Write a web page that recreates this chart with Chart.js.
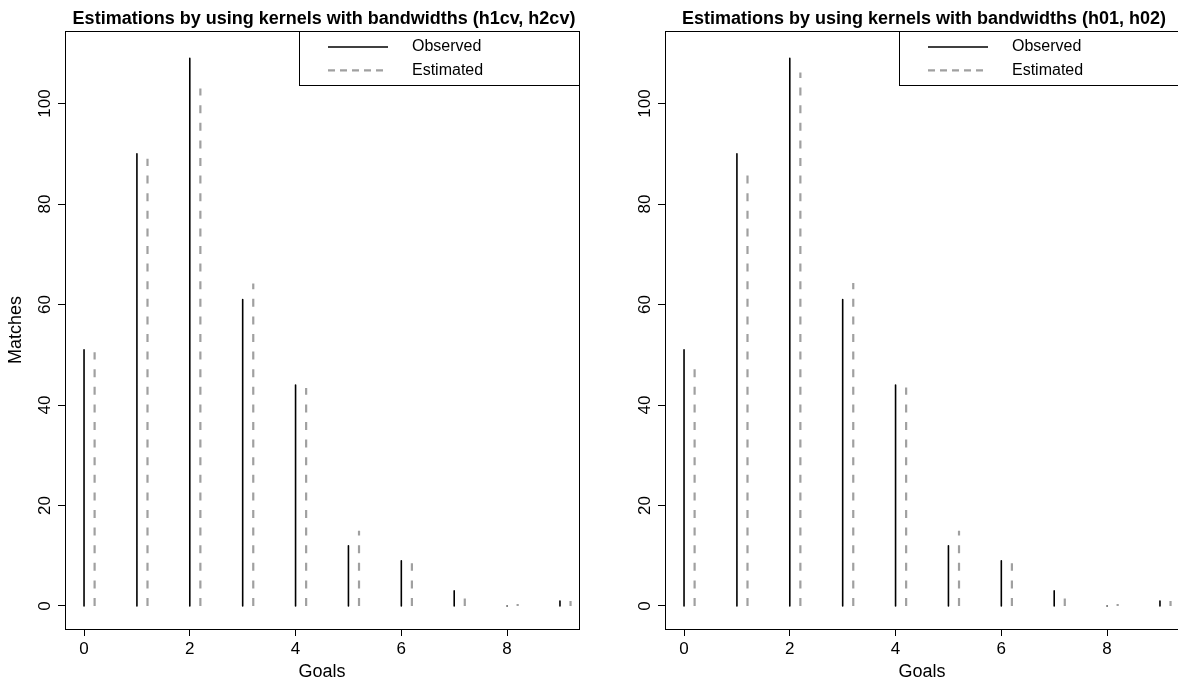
<!DOCTYPE html>
<html>
<head>
<meta charset="utf-8">
<script src="https://cdn.jsdelivr.net/npm/chart.js@4.4.1/dist/chart.umd.min.js"></script>
<style>
  html, body { margin: 0; padding: 0; background: #fff; overflow: hidden; }
  body { width: 1178px; height: 685px; position: relative; }
  .panel { position: absolute; top: 0; width: 600px; height: 685px; }
</style>
</head>
<body>
<div class="panel" style="left:0"><canvas id="chartCV" width="600" height="685"></canvas></div>
<div class="panel" style="left:600px"><canvas id="chart0" width="600" height="685"></canvas></div>
<script>
// datos
const goles = [0, 1, 2, 3, 4, 5, 6, 7, 8, 9];
const observados = [51, 90, 109, 61, 44, 12, 9, 3, 0, 1];
const estimadosCV = [50.5, 89, 103, 64.2, 43.4, 15, 8.5, 1.5, 0.4, 1];
const estimados0 = [47.1, 87.5, 106.2, 64.3, 43.5, 15, 8.5, 1.5, 0.4, 1];
const ticksX = [0, 2, 4, 6, 8];
const ticksY = [0, 20, 40, 60, 80, 100];
const desplazamiento = 0.2;

const FUENTE = '"Liberation Sans", Arial, sans-serif';

// cada barra es un tallo vertical desde 0 hasta el valor (tipo "h" de R)
function tallos(xs, ys, dx) {
    const puntos = [];
    xs.forEach((x, i) => {
        puntos.push({ x: x + dx, y: 0 }, { x: x + dx, y: ys[i] }, { x: x + dx, y: null });
    });
    return puntos;
}

// caja, titulo, etiquetas del eje Y y leyenda estilo R
const marcoR = {
    id: 'marcoR',
    afterDraw(chart, args, opts) {
        const ctx = chart.ctx;
        const a = chart.chartArea;
        ctx.save();

        ctx.strokeStyle = '#000';
        ctx.lineWidth = 1;
        ctx.setLineDash([]);
        ctx.strokeRect(a.left + 0.5, a.top + 0.5, a.right - a.left, a.bottom - a.top);

        ctx.fillStyle = '#000';
        ctx.font = 'bold 18px ' + FUENTE;
        ctx.textAlign = 'center';
        ctx.textBaseline = 'alphabetic';
        ctx.fillText(opts.titulo, (a.left + a.right) / 2 + 2, 24);

        // etiquetas del eje Y giradas como en R
        const escalaY = chart.scales.y;
        ctx.font = '17px ' + FUENTE;
        escalaY.ticks.forEach(t => {
            const py = escalaY.getPixelForValue(t.value);
            ctx.save();
            ctx.translate(50, py);
            ctx.rotate(-Math.PI / 2);
            ctx.textAlign = 'center';
            ctx.fillText(String(t.value), 0, 0);
            ctx.restore();
        });

        // leyenda arriba a la derecha
        const izq = 299, abajo = 85;
        ctx.strokeStyle = '#000';
        ctx.lineWidth = 1;
        ctx.strokeRect(izq + 0.5, a.top + 0.5, a.right - izq, abajo - a.top);
        ctx.font = '16px ' + FUENTE;
        ctx.textAlign = 'left';
        ctx.textBaseline = 'middle';
        chart.data.datasets.forEach((ds, i) => {
            const yy = 47 + i * 23.3;
            ctx.beginPath();
            ctx.strokeStyle = ds.borderColor;
            ctx.lineWidth = ds.borderWidth;
            ctx.setLineDash(ds.borderDash && ds.borderDash.length ? [7, 5] : []);
            ctx.moveTo(328, yy);
            ctx.lineTo(388, yy);
            ctx.stroke();
            ctx.fillStyle = '#000';
            ctx.fillText(ds.label, 412, yy);
        });
        ctx.restore();
    }
};

function crearGrafico(id, titulo, estimados, conTituloY) {
    const ctx = document.getElementById(id);
    return new Chart(ctx, {
        type: 'line',
        data: {
            datasets: [{
                label: 'Observed',
                data: tallos(goles, observados, 0),
                borderColor: '#000',
                borderWidth: 1.6,
                borderCapStyle: 'round',
                pointRadius: 0,
                spanGaps: false
            }, {
                label: 'Estimated',
                data: tallos(goles, estimados, desplazamiento),
                borderColor: '#a0a0a0',
                borderWidth: 2.2,
                borderDash: [8, 9.6],
                pointRadius: 0,
                spanGaps: false
            }]
        },
        options: {
            responsive: false,
            animation: false,
            events: [],
            layout: { padding: { top: 31, right: 21, left: 0, bottom: 0 } },
            plugins: {
                legend: { display: false },
                tooltip: { enabled: false },
                marcoR: { titulo: titulo }
            },
            scales: {
                x: {
                    type: 'linear',
                    min: -0.36,
                    max: 9.36,
                    afterBuildTicks: s => { s.ticks = ticksX.map(v => ({ value: v })); },
                    afterFit: s => { s.height = 56; },
                    grid: { drawOnChartArea: false, drawTicks: true, tickLength: 7, tickColor: '#000', tickWidth: 1 },
                    border: { display: false },
                    ticks: { color: '#000', font: { size: 17, family: FUENTE }, padding: 3, maxRotation: 0 },
                    title: { display: true, text: 'Goals', color: '#000', font: { size: 18, family: FUENTE }, padding: { top: 0, bottom: 2 } }
                },
                y: {
                    type: 'linear',
                    min: -4.58,
                    max: 114.45,
                    afterBuildTicks: s => { s.ticks = ticksY.map(v => ({ value: v })); },
                    afterFit: s => { s.width = 65; },
                    grid: { drawOnChartArea: false, drawTicks: true, tickLength: 7, tickColor: '#000', tickWidth: 1 },
                    border: { display: false },
                    ticks: { display: false },
                    title: { display: conTituloY, text: 'Matches', color: '#000', font: { size: 18, family: FUENTE }, padding: { top: 5, bottom: 0 } }
                }
            }
        },
        plugins: [marcoR]
    });
}

crearGrafico('chartCV', 'Estimations by using kernels with bandwidths (h1cv, h2cv)', estimadosCV, true);
crearGrafico('chart0', 'Estimations by using kernels with bandwidths (h01, h02)', estimados0, false);
</script>
</body>
</html>
